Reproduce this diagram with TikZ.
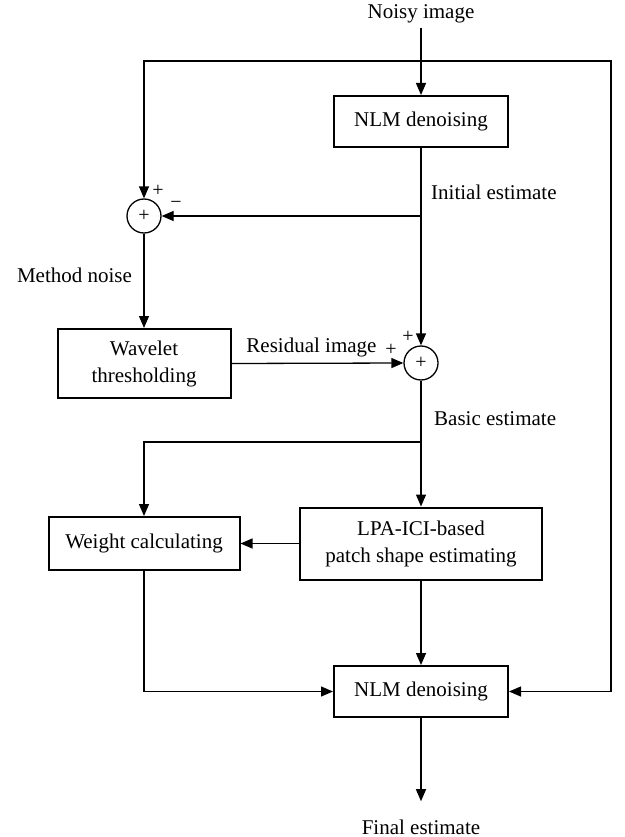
\documentclass[tikz,border=0pt]{standalone}
\usepackage{fontspec}
\setmainfont{Liberation Serif}
\usetikzlibrary{arrows.meta}
\begin{document}
\begin{tikzpicture}[x=1pt,y=-1pt,
 every node/.style={font=\fontsize{21}{27}\selectfont},
 box/.style={draw, line width=2pt, align=center, inner sep=0pt},
 sumc/.style={circle, draw, line width=1.3pt, minimum size=34pt, inner sep=0pt, font=\fontsize{20}{20}\selectfont},
 sign/.style={inner sep=0pt, font=\fontsize{20}{20}\selectfont},
 lbl/.style={inner sep=0pt},
 conn/.style={line width=1.3pt},
 tip/.tip={Triangle[length=12pt,width=10pt]},
 arr/.style={conn, -tip}]
\useasboundingbox (0,0) rectangle (624,837);

% nodes
\node[lbl, anchor=base, inner ysep=4pt] (noisy) at (421,19) {Noisy image};
\node[box, minimum width=174pt, minimum height=51pt] (nlm1) at (421,121.5) {NLM denoising};
\node[sumc] (sum1) at (144,216) {+};
\node[sumc] (sum2) at (421,363) {+};
\node[box, minimum width=173pt, minimum height=69pt] (wav) at (144,363.5) {Wavelet\\thresholding};
\node[box, minimum width=191pt, minimum height=53pt] (weight) at (144,543.5) {Weight calculating};
\node[box, minimum width=242pt, minimum height=72pt] (lpa) at (421,543.5) {LPA-ICI-based\\patch shape estimating};
\node[box, minimum width=174pt, minimum height=51pt] (nlm2) at (421,691.5) {NLM denoising};
\node[lbl, anchor=base] (final) at (421,834) {Final estimate};

% labels
\node[lbl, anchor=base west] (ie) at (431,199) {Initial estimate};
\node[lbl, anchor=base] (mn) at (74.5,282) {Method noise};
\node[lbl, anchor=base] (ri) at (311.5,352) {Residual image};
\node[lbl, anchor=base west] (be) at (434,425) {Basic estimate};
\node[sign] (s1a) at (158,191) {+};
\node[sign] (s1b) at (176,205) {−};
\node[sign] (s2a) at (408,337) {+};
\node[sign] (s2b) at (391,350) {+};

% coordinates
\coordinate (tl) at (144,61);
\coordinate (tr) at (611,61);
\coordinate (j1) at (421,216);
\coordinate (j2) at (421,442);

% connectors
\draw[conn, tip-tip] (sum1.north) -- (tl) -- (tr) -- (tr |- nlm2.east) -- (nlm2.east);
\draw[arr] (noisy.south) -- (nlm1.north);
\draw[arr] (nlm1.south) -- (sum2.north);
\draw[arr] (j1) -- (sum1.east);
\draw[arr] (sum1.south) -- (wav.north);
\draw[arr] (wav.east) -- (sum2.west);
\draw[arr] (sum2.south) -- (lpa.north);
\draw[arr] (j2) -- (j2 -| weight.north) -- (weight.north);
\draw[arr] (lpa.west) -- (weight.east);
\draw[arr] (lpa.south) -- (nlm2.north);
\draw[arr] (weight.south) -- (weight.south |- nlm2.west) -- (nlm2.west);
\draw[arr, shorten >=18pt] (nlm2.south) -- (final.north);
\end{tikzpicture}
\end{document}
